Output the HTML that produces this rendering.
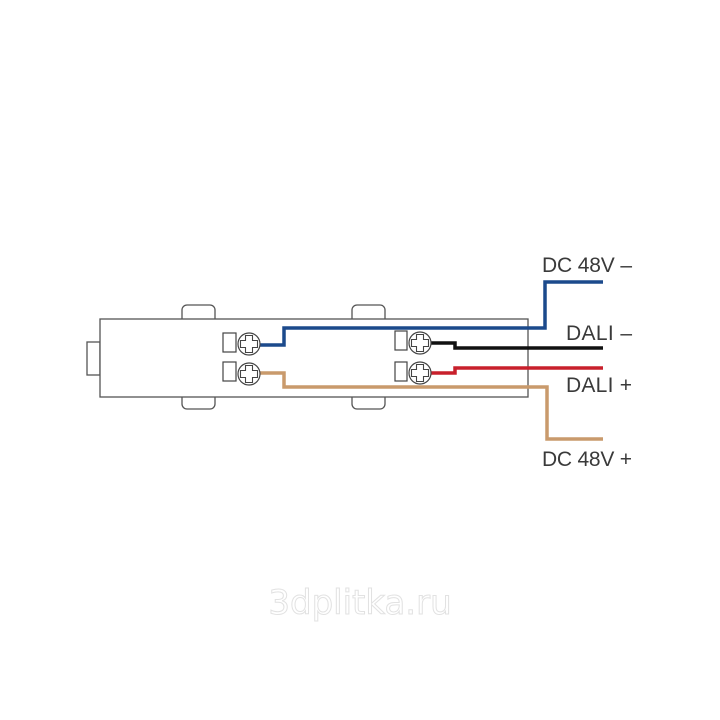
<!DOCTYPE html>
<html><head><style>body{margin:0;background:#fff}svg{display:block}</style></head><body>
<svg width="720" height="720" viewBox="0 0 720 720" xmlns="http://www.w3.org/2000/svg">
<rect width="720" height="720" fill="#fff"/>
<g fill="#fff" stroke="#555" stroke-width="1.3">
<rect x="87" y="342" width="13" height="33"/>
<rect x="182" y="305" width="33" height="20" rx="5"/>
<rect x="352" y="305" width="33" height="20" rx="5"/>
<rect x="182" y="391" width="33" height="18" rx="5"/>
<rect x="352" y="391" width="33" height="18" rx="5"/>
<rect x="100" y="319" width="428" height="78"/>
</g>
<g fill="none" stroke-width="3.5" stroke-linejoin="miter">
<polyline points="258,345 284,345 284,328 545,328 545,282 603,282" stroke="#1c4a8c"/>
<polyline points="258,373 284,373 284,387 547,387 547,439 603,439" stroke="#c99a6c"/>
<polyline points="430,343 455,343 455,348 603,348" stroke="#111"/>
<polyline points="430,373 455,373 455,368 603,368" stroke="#c8202c"/>
</g>
<g fill="#fff" stroke="#444" stroke-width="1.2">
<rect x="223" y="333" width="13" height="19"/>
<rect x="223" y="362" width="13" height="19"/>
<rect x="395" y="331" width="12" height="19"/>
<rect x="395" y="362" width="12" height="19"/>
<circle cx="249" cy="344" r="11"/>
<circle cx="249" cy="374" r="11"/>
<circle cx="420" cy="343" r="11"/>
<circle cx="420" cy="373" r="11"/>
</g>
<g fill="#fff" stroke="#444" stroke-width="1.1">
<path d="M245.5,336h7v5h5v7h-5v5h-7v-5h-5v-7h5z" transform="translate(0,-0.5)"/>
<path d="M245.5,366h7v5h5v7h-5v5h-7v-5h-5v-7h5z" transform="translate(0,-0.5)"/>
<path d="M416.5,335h7v5h5v7h-5v5h-7v-5h-5v-7h5z" transform="translate(0,-0.5)"/>
<path d="M416.5,365h7v5h5v7h-5v5h-7v-5h-5v-7h5z" transform="translate(0,-0.5)"/>
</g>
<g font-family="Liberation Sans, sans-serif" font-size="21" fill="#3a3a3a">
<text x="542" y="272" textLength="90">DC 48V –</text>
<text x="566" y="340" textLength="66">DALI –</text>
<text x="566" y="392" textLength="66">DALI +</text>
<text x="542" y="466" textLength="90">DC 48V +</text>
</g>
<text x="360" y="614" text-anchor="middle" font-family="DejaVu Sans, sans-serif" font-size="34" fill="#fff" stroke="#e2e2e2" stroke-width="1">3dplitka.ru</text>
</svg>
</body></html>
